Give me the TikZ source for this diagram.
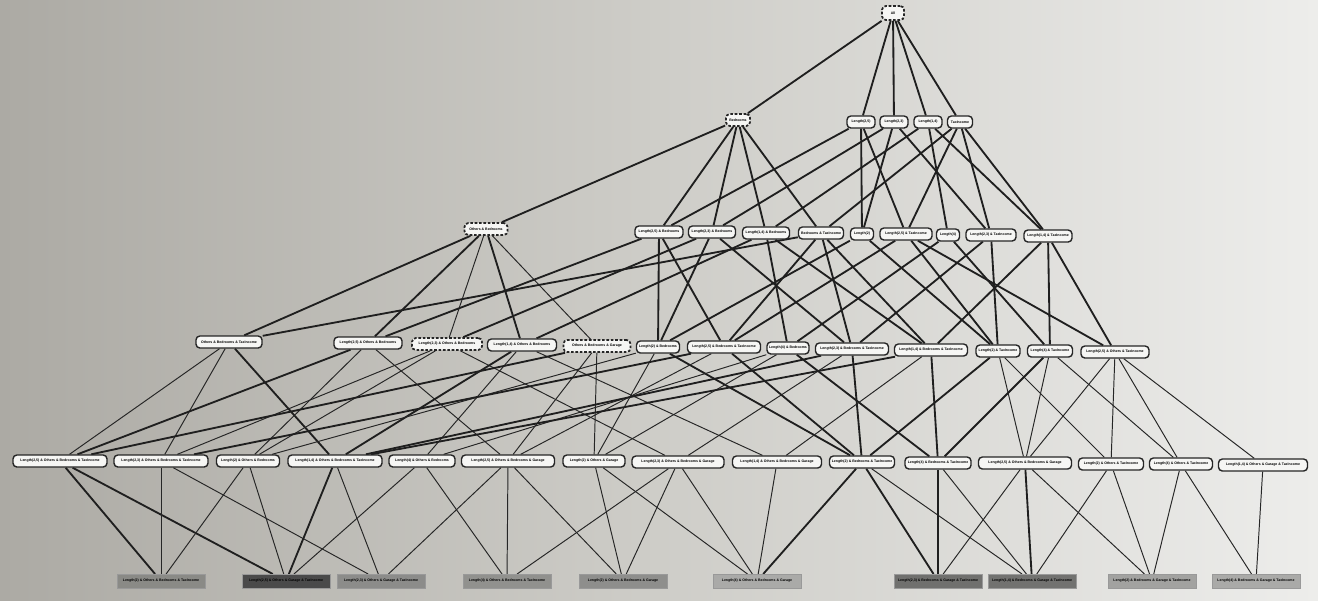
\documentclass[tikz,border=0pt]{standalone}
\usepackage{fontspec}
\setmainfont{Liberation Sans}
\pgfdeclarelayer{bg}
\pgfdeclarelayer{edges}
\pgfsetlayers{bg,edges,main}
\definecolor{bgL}{RGB}{172,170,164}
\definecolor{bgM}{RGB}{206,205,200}
\definecolor{bgR}{RGB}{237,237,235}
\definecolor{nodefill}{RGB}{246,246,244}
\definecolor{g1}{RGB}{138,138,134}
\definecolor{g2}{RGB}{74,74,74}
\definecolor{g3}{RGB}{140,140,138}
\definecolor{g4}{RGB}{145,145,142}
\definecolor{g5}{RGB}{142,142,140}
\definecolor{g6}{RGB}{170,170,168}
\definecolor{g7}{RGB}{112,112,110}
\definecolor{g8}{RGB}{114,114,112}
\definecolor{g9}{RGB}{162,162,160}
\definecolor{g10}{RGB}{170,170,168}
\begin{document}
\begin{tikzpicture}[x=0.02cm,y=-0.02cm,
  lbl/.style={font=\fontsize{2}{2.4}\selectfont\bfseries, inner sep=0pt, minimum height=0.24cm, align=center},
  box/.style={lbl, draw=black!85, line width=0.8pt, rounded corners=2.2pt, fill=nodefill, minimum width=#1*0.02cm},
  dbox/.style={box=#1, dash pattern=on 1.5pt off 1pt, line width=1pt},
  gbox/.style={lbl, fill=#1, draw=black!40, line width=0.3pt, minimum height=0.27cm, minimum width=88*0.02cm},
  ed/.style={draw=black!88, line width=1.05pt},
  et/.style={draw=black!85, line width=0.55pt},
]
\useasboundingbox (0,0) rectangle (1318,600);
\begin{pgfonlayer}{bg}
\shade[left color=bgL, right color=bgR, middle color=bgM] (0,0) rectangle (1318,600);
\end{pgfonlayer}

% level 0
\node[dbox=22, minimum height=0.28cm] (T) at (893,13) {All};
% level 1
\node[dbox=24] (A1) at (738,120) {Bedrooms};
\node[box=28] (B1) at (861,122) {Length(2,5)};
\node[box=28] (B2) at (894,122) {Length(2,3)};
\node[box=28] (B3) at (928,122) {Length(1,4)};
\node[box=25] (B4) at (960,122) {TaxIncome};
% level 2
\node[dbox=43] (C0) at (486,229) {Others \& Bedrooms};
\node[box=48] (n1) at (659,232) {Length(2,5) \& Bedrooms};
\node[box=47] (n2) at (712,232) {Length(2,3) \& Bedrooms};
\node[box=47] (n3) at (766,233) {Length(1,4) \& Bedrooms};
\node[box=45] (n4) at (821,233) {Bedrooms \& TaxIncome};
\node[box=23] (n5) at (862,234) {Length(2)};
\node[box=52] (n6) at (906,234) {Length(2,5) \& TaxIncome};
\node[box=23] (n7) at (948,235) {Length(4)};
\node[box=50] (n8) at (991,235) {Length(2,3) \& TaxIncome};
\node[box=48] (n9) at (1048,236) {Length(1,4) \& TaxIncome};
% level 3
\node[box=66] (D1) at (229,342) {Others \& Bedrooms \& TaxIncome};
\node[box=68] (D2) at (368,343) {Length(2,5) \& Others \& Bedrooms};
\node[dbox=70] (D3) at (447,344) {Length(2,3) \& Others \& Bedrooms};
\node[box=69] (D4) at (522,345) {Length(1,4) \& Others \& Bedrooms};
\node[dbox=67] (D5) at (597,346) {Others \& Bedrooms \& Garage};
\node[box=43] (D6) at (658,347) {Length(2) \& Bedrooms};
\node[box=73] (D7) at (724,347) {Length(2,5) \& Bedrooms \& TaxIncome};
\node[box=42] (D8) at (788,348) {Length(4) \& Bedrooms};
\node[box=73] (D9) at (852,349) {Length(2,3) \& Bedrooms \& TaxIncome};
\node[box=73] (D10) at (931,350) {Length(1,4) \& Bedrooms \& TaxIncome};
\node[box=44] (D11) at (998,351) {Length(2) \& TaxIncome};
\node[box=45] (D12) at (1050,351) {Length(4) \& TaxIncome};
\node[box=68] (D13) at (1115,352) {Length(2,5) \& Others \& TaxIncome};
% level 4
\node[box=94] (E1) at (60,461) {Length(2,5) \& Others \& Bedrooms \& TaxIncome};
\node[box=94] (E2) at (161,461) {Length(2,3) \& Others \& Bedrooms \& TaxIncome};
\node[box=63] (E3) at (248,461) {Length(2) \& Others \& Bedrooms};
\node[box=94] (E4) at (335,461) {Length(1,4) \& Others \& Bedrooms \& TaxIncome};
\node[box=66] (E5) at (422,461) {Length(4) \& Others \& Bedrooms};
\node[box=93] (E6) at (508,461) {Length(2,5) \& Others \& Bedrooms \& Garage};
\node[box=62] (E7) at (594,461) {Length(2) \& Others \& Garage};
\node[box=92] (E8) at (678,462) {Length(2,3) \& Others \& Bedrooms \& Garage};
\node[box=89] (E9) at (777,462) {Length(1,4) \& Others \& Bedrooms \& Garage};
\node[box=65] (E10) at (862,462) {Length(2) \& Bedrooms \& TaxIncome};
\node[box=66] (E11) at (938,463) {Length(4) \& Bedrooms \& TaxIncome};
\node[box=93] (E12) at (1025,463) {Length(2,5) \& Others \& Bedrooms \& Garage};
\node[box=65] (E13) at (1111,464) {Length(2) \& Others \& TaxIncome};
\node[box=63] (E14) at (1181,464) {Length(4) \& Others \& TaxIncome};
\node[box=89] (E15) at (1263,465) {Length(1,4) \& Others \& Garage \& TaxIncome};
% level 5
\node[gbox=g1] (F1) at (161,581) {Length(2) \& Others \& Bedrooms \& TaxIncome};
\node[gbox=g2] (F2) at (286,581) {Length(2,5) \& Others \& Garage \& TaxIncome};
\node[gbox=g3] (F3) at (381,581) {Length(2,3) \& Others \& Garage \& TaxIncome};
\node[gbox=g4] (F4) at (507,581) {Length(4) \& Others \& Bedrooms \& TaxIncome};
\node[gbox=g5] (F5) at (623,581) {Length(2) \& Others \& Bedrooms \& Garage};
\node[gbox=g6] (F6) at (757,581) {Length(4) \& Others \& Bedrooms \& Garage};
\node[gbox=g7] (F7) at (938,581) {Length(2,3) \& Bedrooms \& Garage \& TaxIncome};
\node[gbox=g8] (F8) at (1032,581) {Length(1,4) \& Bedrooms \& Garage \& TaxIncome};
\node[gbox=g9] (F9) at (1152,581) {Length(2) \& Bedrooms \& Garage \& TaxIncome};
\node[gbox=g10] (F10) at (1256,581) {Length(4) \& Bedrooms \& Garage \& TaxIncome};

\begin{pgfonlayer}{edges}
% 0 -> 1
\foreach \b in {A1,B1,B2,B3,B4} \draw[ed] (T) -- (\b);
% 1 -> 2
\foreach \b in {C0,n1,n2,n3,n4} \draw[ed] (A1) -- (\b);
\foreach \b in {n1,n5,n6} \draw[ed] (B1) -- (\b);
\foreach \b in {n2,n5,n8} \draw[ed] (B2) -- (\b);
\foreach \b in {n3,n7,n9} \draw[ed] (B3) -- (\b);
\foreach \b in {n4,n6,n8,n9} \draw[ed] (B4) -- (\b);
% 2 -> 3
\draw[ed] (C0) -- (D1); \draw[ed] (C0) -- (D2); \draw[et] (C0) -- (D3);
\draw[ed] (C0) -- (D4); \draw[et] (C0) -- (D5);
\foreach \b in {D2,D6,D7} \draw[ed] (n1) -- (\b);
\foreach \b in {D3,D6,D9} \draw[ed] (n2) -- (\b);
\foreach \b in {D4,D8,D10} \draw[ed] (n3) -- (\b);
\foreach \b in {D1,D7,D9,D10} \draw[ed] (n4) -- (\b);
\foreach \b in {D6,D11} \draw[ed] (n5) -- (\b);
\foreach \b in {D7,D11,D13} \draw[ed] (n6) -- (\b);
\foreach \b in {D8,D12} \draw[ed] (n7) -- (\b);
\foreach \b in {D9,D11} \draw[ed] (n8) -- (\b);
\foreach \b in {D10,D12,D13} \draw[ed] (n9) -- (\b);
% 3 -> 4
\draw[et] (D1) -- (E1); \draw[et] (D1) -- (E2); \draw[ed] (D1) -- (E4);
\draw[ed] (D2) -- (E1); \draw[et] (D2) -- (E3); \draw[et] (D2) -- (E6);
\draw[et] (D3) -- (E2); \draw[et] (D3) -- (E3); \draw[et] (D3) -- (E8);
\draw[ed] (D4) -- (E4); \draw[et] (D4) -- (E5); \draw[et] (D4) -- (E9);
\draw[ed] (D5) -- (E1); \draw[et] (D5) -- (E6); \draw[et] (D5) -- (E7);
\draw[et] (D6) -- (E3); \draw[et] (D6) -- (E7); \draw[ed] (D6) -- (E10);
\draw[ed] (D7) -- (E2); \draw[et] (D7) -- (E6); \draw[ed] (D7) -- (E10);
\draw[et] (D8) -- (E5); \draw[et] (D8) -- (E7); \draw[ed] (D8) -- (E11);
\draw[ed] (D9) -- (E4); \draw[et] (D9) -- (E8); \draw[ed] (D9) -- (E10);
\draw[ed] (D10) -- (E4); \draw[et] (D10) -- (E9); \draw[ed] (D10) -- (E11);
\draw[ed] (D11) -- (E10); \draw[et] (D11) -- (E12); \draw[et] (D11) -- (E13);
\draw[ed] (D12) -- (E11); \draw[et] (D12) -- (E12); \draw[et] (D12) -- (E14);
\draw[et] (D13) -- (E12); \draw[et] (D13) -- (E13); \draw[et] (D13) -- (E14); \draw[et] (D13) -- (E15);
% 4 -> 5
\draw[ed] (E1) -- (F1); \draw[ed] (E1) -- (F2);
\draw[et] (E2) -- (F1); \draw[et] (E2) -- (F3);
\draw[et] (E3) -- (F1); \draw[et] (E3) -- (F2);
\draw[ed] (E4) -- (F2); \draw[et] (E4) -- (F3);
\draw[et] (E5) -- (F2); \draw[et] (E5) -- (F4);
\draw[et] (E6) -- (F3); \draw[et] (E6) -- (F4); \draw[et] (E6) -- (F5);
\draw[et] (E7) -- (F5); \draw[et] (E7) -- (F6);
\draw[et] (E8) -- (F4); \draw[et] (E8) -- (F5); \draw[et] (E8) -- (F6);
\draw[et] (E9) -- (F6);
\draw[ed] (E10) -- (F6); \draw[ed] (E10) -- (F7); \draw[et] (E10) -- (F8);
\draw[ed] (E11) -- (F7); \draw[et] (E11) -- (F8);
\draw[et] (E12) -- (F7); \draw[ed] (E12) -- (F8); \draw[et] (E12) -- (F9);
\draw[et] (E13) -- (F8); \draw[et] (E13) -- (F9);
\draw[et] (E14) -- (F9); \draw[et] (E14) -- (F10);
\draw[et] (E15) -- (F10);
\end{pgfonlayer}
\end{tikzpicture}
\end{document}
